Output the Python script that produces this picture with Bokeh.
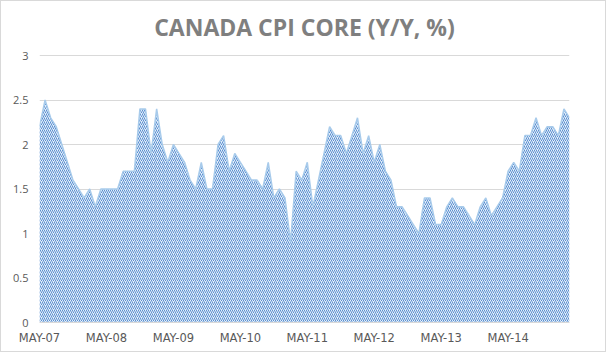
from bokeh.plotting import figure
from bokeh.models import FixedTicker, ColumnDataSource, Label
from bokeh.embed import file_html
from bokeh.resources import INLINE

# Monthly Canada CPI core, y/y %, May 2007 - Apr 2015
months = [f"{m}-{y:02d}" for y in range(7, 16) for m in
          ["JAN", "FEB", "MAR", "APR", "MAY", "JUN", "JUL", "AUG", "SEP", "OCT", "NOV", "DEC"]][4:100]
core_cpi = [2.2, 2.5, 2.3, 2.2, 2.0, 1.8, 1.6, 1.5, 1.4, 1.5, 1.3, 1.5,
            1.5, 1.5, 1.5, 1.7, 1.7, 1.7, 2.4, 2.4, 1.9, 2.4, 2.0, 1.8,
            2.0, 1.9, 1.8, 1.6, 1.5, 1.8, 1.5, 1.5, 2.0, 2.1, 1.7, 1.9,
            1.8, 1.7, 1.6, 1.6, 1.5, 1.8, 1.4, 1.5, 1.4, 0.9, 1.7, 1.6,
            1.8, 1.3, 1.6, 1.9, 2.2, 2.1, 2.1, 1.9, 2.1, 2.3, 1.9, 2.1,
            1.8, 2.0, 1.7, 1.6, 1.3, 1.3, 1.2, 1.1, 1.0, 1.4, 1.4, 1.1,
            1.1, 1.3, 1.4, 1.3, 1.3, 1.2, 1.1, 1.3, 1.4, 1.2, 1.3, 1.4,
            1.7, 1.8, 1.7, 2.1, 2.1, 2.3, 2.1, 2.2, 2.2, 2.1, 2.4, 2.3]
y_ticks = [0, 0.5, 1, 1.5, 2, 2.5, 3]
y_tick_labels = ["0", "0.5", "1", "1.5", "2", "2.5", "3"]
x_tick_labels = ["MAY-07", "MAY-08", "MAY-09", "MAY-10", "MAY-11", "MAY-12", "MAY-13", "MAY-14"]
title_text = "CANADA CPI CORE (Y/Y, %)"

idx = list(range(len(core_cpi)))
src = ColumnDataSource(dict(x=idx, y=core_cpi, m=months[:len(core_cpi)]))

# frame spans the full height above the x labels; the title sits inside the frame above y=3
p = figure(width=606, height=352, output_backend="svg", toolbar_location=None,
           x_range=(0, len(core_cpi) - 1), y_range=(0, 3.607),
           min_border_left=38, min_border_right=38, min_border_top=0, min_border_bottom=31)
p.styles = {"border": "1px solid #d9d9d9"}

p.outline_line_color = None
p.background_fill_color = "white"
p.border_fill_color = "white"

p.xgrid.grid_line_color = None
p.ygrid.grid_line_color = "#d9d9d9"
p.ygrid.ticker = FixedTicker(ticks=y_ticks)

p.varea(x="x", y1=0, y2="y", source=src, fill_color="#e3eef9",
        hatch_pattern="/", hatch_color="#5b8fd0", hatch_scale=4, hatch_weight=1)
p.line(x="x", y="y", source=src, line_color="#a8cbeb", line_width=1.5)

title = Label(x=(len(core_cpi) - 1) / 2, y=3.325, text=title_text,
              text_align="center", text_baseline="middle",
              text_font="Open Sans", text_font_size="23px", text_font_style="bold",
              text_color="#7f7f7f")
p.add_layout(title)

p.yaxis.ticker = FixedTicker(ticks=y_ticks)
p.yaxis.major_label_overrides = {t: l for t, l in zip(y_ticks, y_tick_labels)}
p.yaxis.axis_line_color = None
p.yaxis.major_tick_line_color = None
p.yaxis.minor_tick_line_color = None
p.yaxis.major_tick_out = 0
p.yaxis.major_label_standoff = 11
p.yaxis.major_label_text_font = "Open Sans"
p.yaxis.major_label_text_font_size = "11px"
p.yaxis.major_label_text_color = "#595959"

x_ticks = [i for i in idx if months[i].startswith("MAY")]
p.xaxis.ticker = FixedTicker(ticks=x_ticks)
p.xaxis.major_label_overrides = {t: l for t, l in zip(x_ticks, x_tick_labels)}
p.xaxis.axis_line_color = "#d9d9d9"
p.xaxis.major_tick_line_color = None
p.xaxis.minor_tick_line_color = None
p.xaxis.major_tick_out = 0
p.xaxis.major_label_standoff = 8
p.xaxis.major_label_text_font = "DejaVu Sans"
p.xaxis.major_label_text_font_size = "11.5px"
p.xaxis.major_label_text_color = "#595959"

open("out.html", "w").write(file_html(p, INLINE))
